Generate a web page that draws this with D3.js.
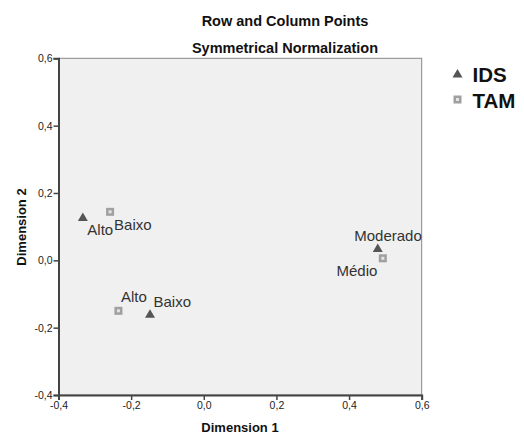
<!DOCTYPE html>
<html>
<head>
<meta charset="utf-8">
<script src="https://cdn.jsdelivr.net/npm/d3@7"></script>
<style>
  body { margin: 0; background: #fff; }
  text { font-family: "Liberation Sans", Arial, sans-serif; }
</style>
</head>
<body>
<svg id="chart" width="524" height="434"></svg>
<script>
// Data
const seriesNames = ["IDS", "TAM"];
const idsLabels = ["Alto", "Baixo", "Moderado"];
const idsDim1 = [-0.333, -0.148, 0.479];
const idsDim2 = [0.127, -0.160, 0.035];
const tamLabels = ["Baixo", "Alto", "Médio"];
const tamDim1 = [-0.258, -0.235, 0.493];
const tamDim2 = [0.144, -0.150, 0.006];
const tickValues = [-0.4, -0.2, 0.0, 0.2, 0.4, 0.6];

// label placement (anchor, dx, dy) relative to each point
const idsLabelPos = [["start", 4.5, 17], ["start", 3.5, -7.5], ["end", 44, -8]];
const tamLabelPos = [["start", 4, 18], ["start", 2.5, -8.5], ["end", -5.5, 17.5]];

const svg = d3.select("#chart");
const plotLeft = 58.5, plotRight = 421.7, plotTop = 58.3, plotBottom = 395;

const x = d3.scaleLinear().domain([-0.4, 0.6]).range([plotLeft, plotRight]);
const y = d3.scaleLinear().domain([-0.4, 0.6]).range([plotBottom, plotTop]);
const fmt = v => d3.format(".1f")(v).replace(".", ",").replace("−", "-");

// Titles
svg.append("text").attr("x", 285).attr("y", 25.5).attr("text-anchor", "middle")
  .attr("font-size", 14.5).attr("font-weight", "bold").attr("fill", "#111")
  .text("Row and Column Points");
svg.append("text").attr("x", 285).attr("y", 52.5).attr("text-anchor", "middle")
  .attr("font-size", 14.5).attr("font-weight", "bold").attr("fill", "#111")
  .text("Symmetrical Normalization");

// Plot background
svg.append("rect")
  .attr("x", plotLeft).attr("y", plotTop)
  .attr("width", plotRight - plotLeft).attr("height", plotBottom - plotTop)
  .attr("fill", "#f0f0f0").attr("stroke", "#888").attr("stroke-width", 1);

// Axes
const xAxis = svg.append("g").attr("transform", `translate(0,${plotBottom})`)
  .call(d3.axisBottom(x).tickValues(tickValues).tickFormat(fmt).tickSizeOuter(0).tickSize(5).tickPadding(2));
const yAxis = svg.append("g").attr("transform", `translate(${plotLeft},0)`)
  .call(d3.axisLeft(y).tickValues(tickValues).tickFormat(fmt).tickSizeOuter(0).tickSize(5).tickPadding(1));
[xAxis, yAxis].forEach(a => {
  a.select(".domain").attr("stroke", "#444").attr("stroke-width", 2);
  a.selectAll(".tick line").attr("stroke", "#444").attr("stroke-width", 1.5);
  a.selectAll(".tick text").attr("font-size", 10.5).attr("fill", "#222")
    .attr("font-family", "Liberation Sans, Arial, sans-serif");
});

// Axis titles
svg.append("text").attr("x", 240).attr("y", 432).attr("text-anchor", "middle")
  .attr("font-size", 13).attr("font-weight", "bold").attr("fill", "#111")
  .text("Dimension 1");
svg.append("text").attr("transform", "translate(26,227) rotate(-90)").attr("text-anchor", "middle")
  .attr("font-size", 13).attr("font-weight", "bold").attr("fill", "#111")
  .text("Dimension 2");

// Markers
const triPath = "M0,-5L5,3.5L-5,3.5Z";
function drawTriangle(g, px, py) {
  g.append("path").attr("d", triPath).attr("transform", `translate(${px},${py})`).attr("fill", "#555");
}
function drawSquare(g, px, py) {
  g.append("rect").attr("x", px - 4).attr("y", py - 4).attr("width", 8).attr("height", 8).attr("fill", "#a0a0a0");
  g.append("rect").attr("x", px - 1.5).attr("y", py - 1.5).attr("width", 3).attr("height", 3).attr("fill", "#e4e4e4");
}

const pts = svg.append("g");
const labels = svg.append("g").attr("font-size", 15).attr("fill", "#333");

idsLabels.forEach((lab, i) => {
  const px = x(idsDim1[i]), py = y(idsDim2[i]);
  drawTriangle(pts, px, py);
  const [anc, dx, dy] = idsLabelPos[i];
  labels.append("text").attr("x", px + dx).attr("y", py + dy).attr("text-anchor", anc).text(lab);
});
tamLabels.forEach((lab, i) => {
  const px = x(tamDim1[i]), py = y(tamDim2[i]);
  drawSquare(pts, px, py);
  const [anc, dx, dy] = tamLabelPos[i];
  labels.append("text").attr("x", px + dx).attr("y", py + dy).attr("text-anchor", anc).text(lab);
});

// Legend
const legend = svg.append("g");
seriesNames.forEach((name, i) => {
  const ly = 74 + i * 26;
  if (i === 0) drawTriangle(legend, 457.5, ly); else drawSquare(legend, 457.5, ly - 0.5);
  legend.append("text").attr("x", 472.5).attr("y", ly + 7.5)
    .attr("font-size", 20.5).attr("font-weight", "bold").attr("fill", "#111").text(name);
});
</script>
</body>
</html>
